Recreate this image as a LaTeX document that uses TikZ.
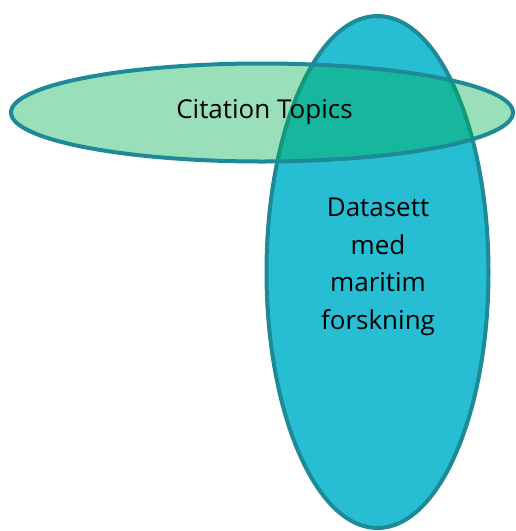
\documentclass[tikz,border=0pt]{standalone}
\usepackage{fontspec}
\setmainfont{Open Sans}
\definecolor{bordercol}{RGB}{30,138,152}
\definecolor{vfill}{RGB}{39,189,211}
\definecolor{hfill}{RGB}{0,175,80}
\tikzset{
  venn/.style={draw=bordercol, line width=4pt},
  lbl/.style={font=\fontsize{26}{37.5}\selectfont, text=black, align=center}
}
\begin{document}
\begin{tikzpicture}[x=1pt,y=-1pt]
\useasboundingbox (0,0) rectangle (516,531);
\path[venn, fill=vfill] (377.5,272) ellipse [x radius=111, y radius=256];
\path[venn, fill=hfill, fill opacity=0.4] (262,112.5) ellipse [x radius=251, y radius=49];
\node[lbl, anchor=base] (ct) at (264.5,118) {Citation Topics};
\node[lbl] (ds) at (378,267) {Datasett\\med\\maritim\\forskning};
\end{tikzpicture}
\end{document}
